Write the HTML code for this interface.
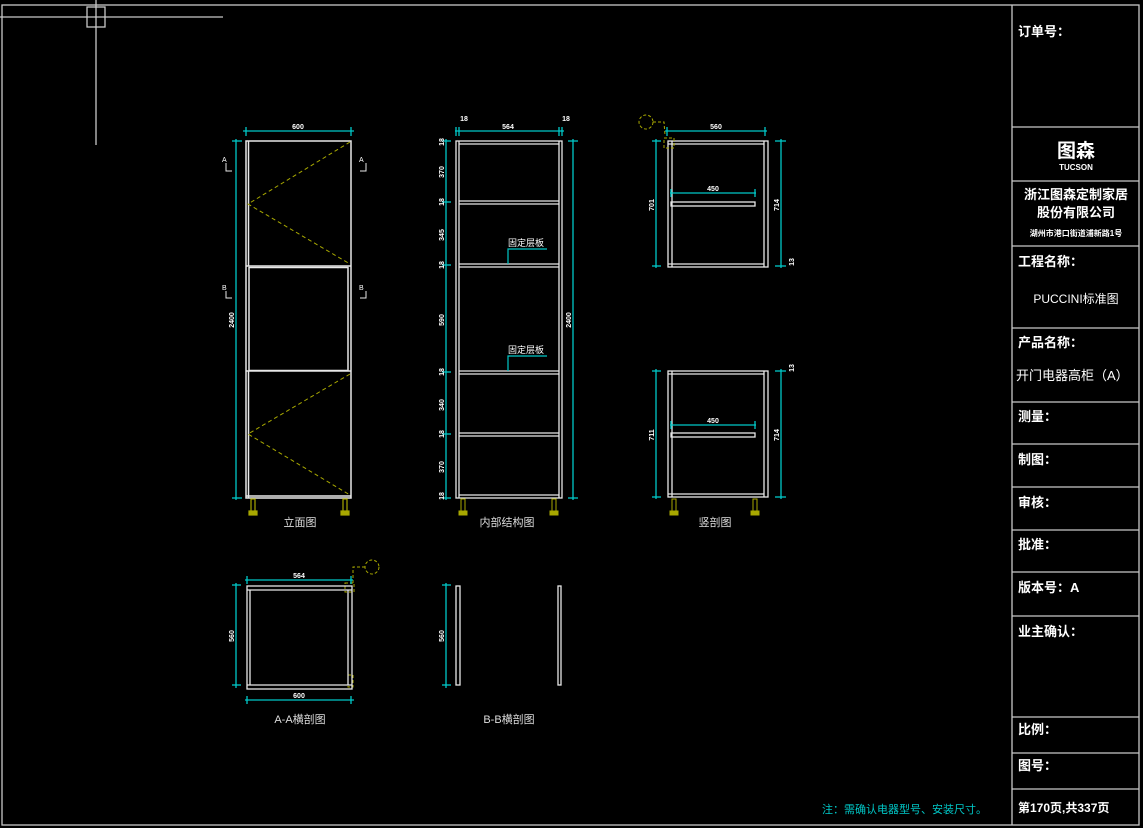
<!DOCTYPE html>
<html><head><meta charset="utf-8"><style>
html,body{margin:0;padding:0;background:#000;width:1143px;height:828px;overflow:hidden}
svg{display:block}
text{font-family:"Liberation Sans","Noto Sans CJK SC",sans-serif}
</style></head><body>
<svg width="1143" height="828" viewBox="0 0 1143 828" xmlns="http://www.w3.org/2000/svg">
<g fill="none" stroke="#c8c8c8" stroke-width="1.3">
<!-- frame -->
<rect x="2" y="5" width="1137" height="820"/>
<line x1="0" y1="17" x2="223" y2="17"/>
<line x1="96" y1="0" x2="96" y2="145"/>
<rect x="87" y="7" width="18" height="20"/>
<!-- title block -->
<line x1="1012" y1="5" x2="1012" y2="825"/>
<line x1="1012" y1="127" x2="1139" y2="127"/>
<line x1="1012" y1="181" x2="1139" y2="181"/>
<line x1="1012" y1="246" x2="1139" y2="246"/>
<line x1="1012" y1="328" x2="1139" y2="328"/>
<line x1="1012" y1="402" x2="1139" y2="402"/>
<line x1="1012" y1="444" x2="1139" y2="444"/>
<line x1="1012" y1="487" x2="1139" y2="487"/>
<line x1="1012" y1="530" x2="1139" y2="530"/>
<line x1="1012" y1="572" x2="1139" y2="572"/>
<line x1="1012" y1="616" x2="1139" y2="616"/>
<line x1="1012" y1="717" x2="1139" y2="717"/>
<line x1="1012" y1="753" x2="1139" y2="753"/>
<line x1="1012" y1="789" x2="1139" y2="789"/>
</g>

<!-- Elevation -->
<g fill="none" stroke="#e8e8e8" stroke-width="1.5">
<rect x="246" y="141" width="105" height="357"/>
<line x1="248.5" y1="141" x2="248.5" y2="266"/>
<line x1="246" y1="266" x2="351" y2="266"/>
<line x1="246" y1="371" x2="351" y2="371"/>
<rect x="249" y="267.5" width="99" height="103"/>
<line x1="248.5" y1="371" x2="248.5" y2="498"/>
<line x1="246" y1="496" x2="351" y2="496"/>
</g>
<g fill="none" stroke="#a8a800" stroke-width="1" stroke-dasharray="4,3">
<polyline points="350,142 248,204 350,264"/>
<polyline points="350,374 248,434 350,495"/>
</g>
<g stroke="#a8a800" fill="#a8a800" stroke-width="1.2">
<rect x="251" y="499" width="4" height="13" fill="none"/><rect x="249" y="511" width="8" height="4"/>
<rect x="343" y="499" width="4" height="13" fill="none"/><rect x="341" y="511" width="8" height="4"/>
</g>
<g fill="none" stroke="#e8e8e8" stroke-width="1">
<polyline points="226,163 226,171 232,171"/><polyline points="366,163 366,171 360,171"/>
<polyline points="226,291 226,298 232,298"/><polyline points="366,291 366,298 360,298"/>
</g>
<g fill="#fff" font-size="7"><text x="222" y="162">A</text><text x="359" y="162">A</text><text x="222" y="290">B</text><text x="359" y="290">B</text></g>

<!-- Internal -->
<g fill="none" stroke="#e8e8e8" stroke-width="1.3">
<rect x="456" y="141" width="106" height="357"/>
<line x1="459" y1="141" x2="459" y2="498"/>
<line x1="559" y1="141" x2="559" y2="498"/>
<line x1="459" y1="144" x2="559" y2="144"/>
<line x1="459" y1="201" x2="559" y2="201"/><line x1="459" y1="204" x2="559" y2="204"/>
<line x1="459" y1="264" x2="559" y2="264"/><line x1="459" y1="267" x2="559" y2="267"/>
<line x1="459" y1="371" x2="559" y2="371"/><line x1="459" y1="374" x2="559" y2="374"/>
<line x1="459" y1="433" x2="559" y2="433"/><line x1="459" y1="436" x2="559" y2="436"/>
<line x1="459" y1="495" x2="559" y2="495"/>
</g>
<g stroke="#a8a800" fill="#a8a800">
<rect x="461" y="499" width="4" height="13" fill="none"/><rect x="459" y="511" width="8" height="4"/>
<rect x="552" y="499" width="4" height="13" fill="none"/><rect x="550" y="511" width="8" height="4"/>
</g>
<g stroke="#00c8c8" stroke-width="1.2" fill="none">
<polyline points="508,264 508,249 547,249"/>
<polyline points="508,371 508,356 547,356"/>
</g>
<g fill="#fff" font-size="9"><text x="508" y="246">固定层板</text><text x="508" y="353">固定层板</text></g>

<!-- Vertical section -->
<g fill="none" stroke="#e8e8e8" stroke-width="1.3">
<rect x="668" y="141" width="100" height="126"/>
<line x1="672" y1="141" x2="672" y2="267"/><line x1="764" y1="141" x2="764" y2="267"/>
<line x1="668" y1="144" x2="764" y2="144"/><line x1="668" y1="264" x2="764" y2="264"/>
<rect x="671" y="202" width="84" height="4"/>
<rect x="668" y="371" width="100" height="126"/>
<line x1="672" y1="371" x2="672" y2="497"/><line x1="764" y1="371" x2="764" y2="497"/>
<line x1="668" y1="374" x2="764" y2="374"/><line x1="668" y1="494" x2="764" y2="494"/>
<rect x="671" y="433" width="84" height="4"/>
</g>
<g stroke="#a8a800" fill="#a8a800">
<rect x="672" y="499" width="4" height="13" fill="none"/><rect x="670" y="511" width="8" height="4"/>
<rect x="753" y="499" width="4" height="13" fill="none"/><rect x="751" y="511" width="8" height="4"/>
<g fill="none" stroke-dasharray="3,2"><circle cx="646" cy="122" r="7"/><rect x="664" y="138" width="10" height="10"/><polyline points="653,122 664,122 665,135"/>
<circle cx="372" cy="567" r="7"/><rect x="345" y="583" width="9" height="9"/><polyline points="365,567 353,567 353,583"/><rect x="348" y="675" width="5" height="12"/></g>
</g>

<!-- A-A -->
<g fill="none" stroke="#e8e8e8" stroke-width="1.3">
<rect x="247" y="586" width="105" height="103"/>
<line x1="247" y1="590" x2="352" y2="590"/>
<line x1="250" y1="590" x2="250" y2="685"/><line x1="348" y1="590" x2="348" y2="685"/>
<line x1="247" y1="685" x2="352" y2="685"/>
<!-- B-B -->
<rect x="456" y="586" width="4" height="99"/>
<rect x="558" y="586" width="3" height="99"/>
</g>

<!-- dimensions -->
<g stroke="#00c8c8" stroke-width="1.3" fill="none">
<line x1="243" y1="131" x2="354" y2="131"/><line x1="246" y1="127" x2="246" y2="136"/><line x1="351" y1="127" x2="351" y2="136"/>
<line x1="236" y1="139" x2="236" y2="500"/><line x1="232" y1="141" x2="242" y2="141"/><line x1="232" y1="498" x2="242" y2="498"/>
<line x1="455" y1="131" x2="564" y2="131"/><line x1="456" y1="127" x2="456" y2="136"/><line x1="459" y1="127" x2="459" y2="136"/><line x1="559" y1="127" x2="559" y2="136"/><line x1="562" y1="127" x2="562" y2="136"/>
<line x1="446" y1="139" x2="446" y2="500"/>
<line x1="442" y1="141" x2="451" y2="141"/><line x1="442" y1="202" x2="451" y2="202"/><line x1="442" y1="265" x2="451" y2="265"/><line x1="442" y1="372" x2="451" y2="372"/><line x1="442" y1="434" x2="451" y2="434"/><line x1="442" y1="498" x2="451" y2="498"/>
<line x1="573" y1="139" x2="573" y2="500"/><line x1="568" y1="141" x2="578" y2="141"/><line x1="568" y1="498" x2="578" y2="498"/>
<line x1="665" y1="131" x2="767" y2="131"/><line x1="667" y1="127" x2="667" y2="136"/><line x1="765" y1="127" x2="765" y2="136"/>
<line x1="656" y1="139" x2="656" y2="268"/><line x1="652" y1="141" x2="661" y2="141"/><line x1="652" y1="266" x2="661" y2="266"/>
<line x1="781" y1="139" x2="781" y2="268"/><line x1="775" y1="141" x2="786" y2="141"/><line x1="775" y1="266" x2="786" y2="266"/>
<line x1="670" y1="193" x2="756" y2="193"/><line x1="671" y1="189" x2="671" y2="197"/><line x1="755" y1="189" x2="755" y2="197"/>
<line x1="656" y1="369" x2="656" y2="499"/><line x1="652" y1="371" x2="661" y2="371"/><line x1="652" y1="497" x2="661" y2="497"/>
<line x1="781" y1="369" x2="781" y2="499"/><line x1="775" y1="371" x2="786" y2="371"/><line x1="775" y1="497" x2="786" y2="497"/>
<line x1="670" y1="425" x2="756" y2="425"/><line x1="671" y1="421" x2="671" y2="429"/><line x1="755" y1="421" x2="755" y2="429"/>
<line x1="245" y1="580" x2="353" y2="580"/><line x1="247" y1="576" x2="247" y2="584"/><line x1="351" y1="576" x2="351" y2="584"/>
<line x1="245" y1="700" x2="354" y2="700"/><line x1="247" y1="696" x2="247" y2="704"/><line x1="351" y1="696" x2="351" y2="704"/>
<line x1="236" y1="583" x2="236" y2="688"/><line x1="232" y1="585" x2="241" y2="585"/><line x1="232" y1="685" x2="241" y2="685"/>
<line x1="446" y1="583" x2="446" y2="688"/><line x1="442" y1="585" x2="451" y2="585"/><line x1="442" y1="685" x2="451" y2="685"/>
</g>
<g fill="#fff" font-size="7" font-weight="bold" text-anchor="middle">
<text x="298" y="129">600</text><text x="508" y="129">564</text><text x="464" y="121">18</text><text x="566" y="121">18</text>
<text x="716" y="129">560</text><text x="713" y="191">450</text><text x="713" y="423">450</text>
<text x="299" y="578">564</text><text x="299" y="698">600</text>
<text transform="translate(234,320) rotate(-90)">2400</text>
<text transform="translate(571,320) rotate(-90)">2400</text>
<text transform="translate(444,172) rotate(-90)">370</text>
<text transform="translate(444,235) rotate(-90)">345</text>
<text transform="translate(444,320) rotate(-90)">590</text>
<text transform="translate(444,405) rotate(-90)">340</text>
<text transform="translate(444,467) rotate(-90)">370</text>
<text transform="translate(444,142) rotate(-90)">18</text>
<text transform="translate(444,202) rotate(-90)">18</text>
<text transform="translate(444,265) rotate(-90)">18</text>
<text transform="translate(444,372) rotate(-90)">18</text>
<text transform="translate(444,434) rotate(-90)">18</text>
<text transform="translate(444,496) rotate(-90)">18</text>
<text transform="translate(654,205) rotate(-90)">701</text>
<text transform="translate(779,205) rotate(-90)">714</text>
<text transform="translate(654,435) rotate(-90)">711</text>
<text transform="translate(779,435) rotate(-90)">714</text>
<text transform="translate(794,262) rotate(-90)">13</text>
<text transform="translate(794,368) rotate(-90)">13</text>
<text transform="translate(234,636) rotate(-90)">560</text>
<text transform="translate(444,636) rotate(-90)">560</text>
</g>
<g fill="#ddd" font-size="11" text-anchor="middle">
<text x="300" y="526">立面图</text><text x="507" y="526">内部结构图</text><text x="715" y="526">竖剖图</text>
<text x="300" y="723">A-A横剖图</text><text x="509" y="723">B-B横剖图</text>
</g>
<text x="822" y="813" fill="#00c8c8" font-size="11">注：需确认电器型号、安装尺寸。</text>

<!-- title block text -->
<g fill="#fff" font-size="13" font-weight="bold">
<text x="1018" y="36">订单号：</text>
<text x="1076" y="157" text-anchor="middle" font-size="19">图森</text>
<text x="1076" y="170" text-anchor="middle" font-size="8">TUCSON</text>
<text x="1076" y="199" text-anchor="middle" font-size="13">浙江图森定制家居</text>
<text x="1076" y="217" text-anchor="middle" font-size="13">股份有限公司</text>
<text x="1076" y="236" text-anchor="middle" font-size="8">湖州市港口街道浦新路1号</text>
<text x="1018" y="266">工程名称：</text>
<text x="1076" y="303" text-anchor="middle" font-size="12" font-weight="normal">PUCCINI标准图</text>
<text x="1018" y="347">产品名称：</text>
<text x="1016" y="380" font-weight="normal" font-size="13">开门电器高柜（A）</text>
<text x="1018" y="421">测量：</text>
<text x="1018" y="464">制图：</text>
<text x="1018" y="507">审核：</text>
<text x="1018" y="549">批准：</text>
<text x="1018" y="592">版本号：A</text>
<text x="1018" y="636">业主确认：</text>
<text x="1018" y="734">比例：</text>
<text x="1018" y="770">图号：</text>
<text x="1018" y="812" font-size="12">第170页,共337页</text>
</g>
</svg>
</body></html>
